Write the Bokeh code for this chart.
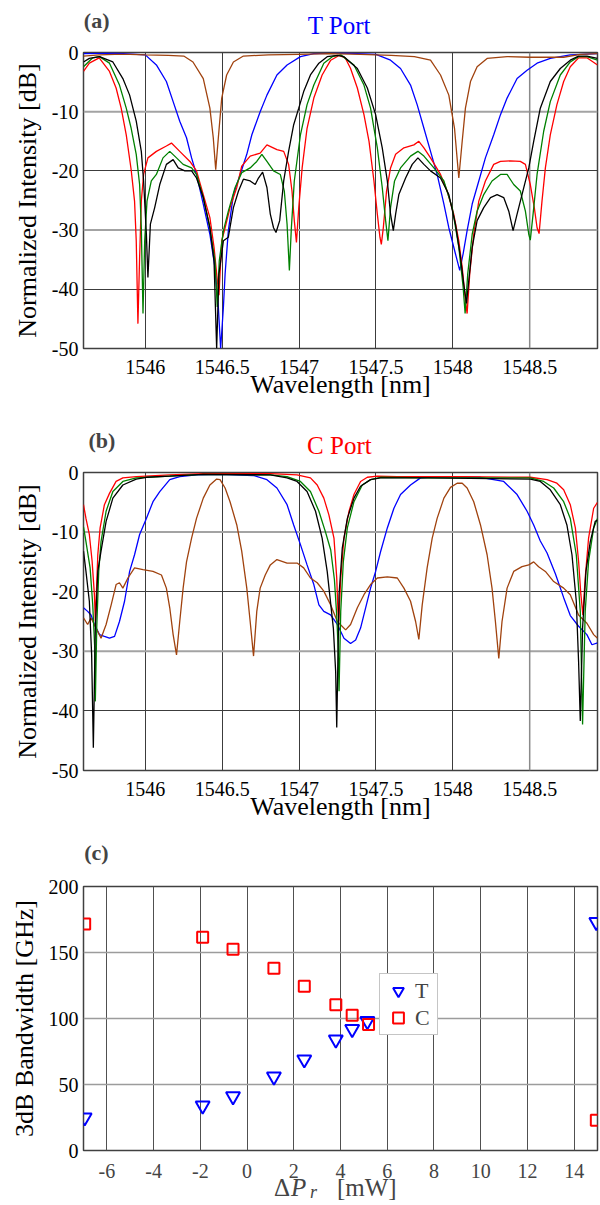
from bokeh.plotting import figure
from bokeh.models import Range1d, FixedTicker, Label, Span, Legend, LegendItem
from bokeh.layouts import column
from bokeh.embed import file_html
from bokeh.resources import INLINE

FONT = "Liberation Serif"

# ---------------- data ----------------
WL_TICKS = [1546, 1546.5, 1547, 1547.5, 1548, 1548.5]
WL_TICK_LABELS = ["1546", "1546.5", "1547", "1547.5", "1548", "1548.5"]
DB_TICKS = [0, -10, -20, -30, -40, -50]
DB_TICK_LABELS = ["0", "-10", "-20", "-30", "-40", "-50"]
WL_RANGE = (1545.598, 1548.941)
DB_RANGE = (-50, 0)

# (a) T port spectra: (wavelength nm, normalized intensity dB)
A_BLUE = [(1545.598,-0.2),(1545.8,-0.1),(1546.0,-0.4),(1546.072,-2.1),(1546.137,-4.9),(1546.181,-8.3),(1546.224,-11.6),(1546.268,-14.4),(1546.301,-17.8),(1546.333,-20.6),(1546.377,-25.6),(1546.42,-30.7),(1546.453,-36.3),(1546.475,-43.0),(1546.49,-50.0),(1546.508,-43.0),(1546.519,-37.4),(1546.54,-30.1),(1546.573,-24.0),(1546.617,-20.6),(1546.66,-17.2),(1546.693,-13.9),(1546.747,-10.0),(1546.791,-7.2),(1546.856,-3.8),(1546.922,-2.1),(1547.009,-0.7),(1547.096,-0.2),(1547.3,-0.1),(1547.5,-0.3),(1547.595,-1.3),(1547.66,-2.7),(1547.725,-5.5),(1547.768,-8.8),(1547.812,-12.8),(1547.855,-16.7),(1547.898,-20.6),(1547.942,-25.6),(1547.974,-29.6),(1548.017,-34.0),(1548.045,-36.8),(1548.067,-34.0),(1548.093,-30.1),(1548.126,-25.6),(1548.169,-21.7),(1548.212,-17.8),(1548.266,-13.9),(1548.31,-10.5),(1548.353,-7.7),(1548.418,-4.4),(1548.483,-3.0),(1548.548,-1.8),(1548.634,-1.0),(1548.764,-0.4),(1548.941,-0.2)]
A_RED = [(1545.598,-3.2),(1545.636,-1.8),(1545.70,-0.9),(1545.767,-3.2),(1545.81,-6.0),(1545.843,-9.4),(1545.876,-13.9),(1545.908,-19.8),(1545.93,-25.1),(1545.941,-31.8),(1545.952,-45.8),(1545.963,-34.6),(1545.974,-25.1),(1545.989,-20.6),(1546.017,-17.8),(1546.072,-16.7),(1546.137,-15.8),(1546.17,-15.3),(1546.224,-16.7),(1546.29,-18.4),(1546.333,-20.0),(1546.377,-24.0),(1546.42,-27.9),(1546.447,-32.9),(1546.464,-37.4),(1546.479,-41.0),(1546.497,-31.8),(1546.519,-29.6),(1546.551,-26.2),(1546.595,-22.8),(1546.627,-19.2),(1546.682,-17.5),(1546.747,-17.0),(1546.791,-15.6),(1546.856,-16.4),(1546.9,-16.7),(1546.932,-18.9),(1546.954,-23.4),(1546.969,-28.4),(1546.983,-32.1),(1546.998,-26.2),(1547.02,-19.5),(1547.052,-12.8),(1547.096,-7.7),(1547.15,-3.8),(1547.206,-1.3),(1547.26,-0.5),(1547.30,-0.9),(1547.335,-2.7),(1547.379,-6.0),(1547.422,-10.5),(1547.455,-15.0),(1547.487,-21.7),(1547.509,-27.3),(1547.526,-31.2),(1547.535,-32.4),(1547.548,-29.6),(1547.569,-23.4),(1547.595,-19.5),(1547.628,-17.2),(1547.682,-16.1),(1547.747,-15.6),(1547.779,-15.0),(1547.812,-16.1),(1547.855,-17.8),(1547.92,-20.6),(1547.963,-23.4),(1548.006,-27.3),(1548.039,-31.8),(1548.061,-36.3),(1548.082,-41.9),(1548.093,-44.1),(1548.11,-37.4),(1548.136,-30.7),(1548.169,-25.1),(1548.212,-21.7),(1548.266,-18.9),(1548.31,-18.4),(1548.374,-18.3),(1548.439,-18.4),(1548.472,-18.9),(1548.504,-22.3),(1548.53,-26.2),(1548.548,-29.6),(1548.561,-30.6),(1548.58,-25.1),(1548.602,-19.5),(1548.634,-13.9),(1548.677,-8.8),(1548.721,-4.9),(1548.764,-2.4),(1548.818,-0.9),(1548.872,-0.9),(1548.941,-2.1)]
A_GREEN = [(1545.598,-2.4),(1545.658,-0.9),(1545.702,-0.7),(1545.767,-1.8),(1545.832,-5.5),(1545.876,-9.4),(1545.908,-12.8),(1545.941,-17.2),(1545.963,-22.3),(1545.974,-29.6),(1545.985,-44.1),(1545.996,-31.8),(1546.011,-25.1),(1546.039,-21.7),(1546.072,-20.6),(1546.115,-17.8),(1546.159,-16.7),(1546.203,-17.8),(1546.246,-18.9),(1546.301,-19.5),(1546.333,-20.6),(1546.377,-24.5),(1546.42,-29.6),(1546.453,-35.2),(1546.468,-43.0),(1546.481,-35.2),(1546.508,-30.1),(1546.54,-26.8),(1546.584,-22.8),(1546.627,-20.3),(1546.682,-19.5),(1546.725,-18.4),(1546.758,-17.2),(1546.791,-18.4),(1546.834,-20.0),(1546.878,-20.6),(1546.904,-23.4),(1546.922,-29.0),(1546.937,-36.8),(1546.95,-29.6),(1546.969,-21.7),(1547.009,-13.9),(1547.052,-8.8),(1547.096,-5.5),(1547.161,-1.8),(1547.216,-0.7),(1547.271,-0.4),(1547.357,-2.1),(1547.422,-5.5),(1547.465,-9.4),(1547.509,-16.1),(1547.541,-22.8),(1547.563,-28.4),(1547.578,-31.8),(1547.595,-26.2),(1547.621,-21.7),(1547.66,-19.5),(1547.725,-17.5),(1547.773,-16.7),(1547.812,-17.5),(1547.877,-19.5),(1547.942,-21.7),(1547.996,-26.2),(1548.039,-32.9),(1548.067,-39.6),(1548.08,-44.1),(1548.097,-37.4),(1548.126,-30.7),(1548.158,-26.8),(1548.201,-24.0),(1548.255,-21.7),(1548.31,-20.6),(1548.353,-20.6),(1548.396,-22.3),(1548.439,-23.4),(1548.472,-26.8),(1548.494,-30.7),(1548.504,-31.7),(1548.522,-27.3),(1548.548,-20.6),(1548.591,-13.3),(1548.634,-8.3),(1548.699,-3.8),(1548.764,-1.6),(1548.818,-0.7),(1548.872,-0.7),(1548.941,-1.3)]
A_BLACK = [(1545.598,-1.6),(1545.636,-1.0),(1545.702,-0.7),(1545.789,-1.6),(1545.854,-4.4),(1545.898,-7.2),(1545.941,-11.6),(1545.974,-16.7),(1545.989,-21.7),(1546.007,-30.7),(1546.017,-38.0),(1546.033,-29.0),(1546.061,-26.2),(1546.094,-22.3),(1546.137,-18.9),(1546.181,-18.1),(1546.214,-19.5),(1546.257,-20.0),(1546.301,-20.0),(1546.333,-21.2),(1546.377,-24.5),(1546.42,-29.6),(1546.447,-35.2),(1546.464,-50.0),(1546.479,-37.4),(1546.508,-31.8),(1546.54,-31.2),(1546.573,-26.2),(1546.606,-23.4),(1546.638,-21.4),(1546.682,-21.7),(1546.715,-22.3),(1546.736,-21.2),(1546.763,-20.2),(1546.791,-22.8),(1546.813,-27.3),(1546.834,-29.6),(1546.85,-30.4),(1546.874,-28.4),(1546.9,-21.7),(1546.932,-16.7),(1546.965,-12.2),(1546.998,-9.4),(1547.03,-6.6),(1547.074,-3.8),(1547.129,-1.8),(1547.183,-0.7),(1547.25,-0.5),(1547.292,-0.7),(1547.379,-2.7),(1547.444,-6.0),(1547.498,-10.5),(1547.541,-16.1),(1547.574,-21.7),(1547.595,-27.3),(1547.613,-30.1),(1547.628,-27.3),(1547.649,-24.0),(1547.693,-21.2),(1547.736,-18.9),(1547.773,-17.8),(1547.812,-18.9),(1547.855,-20.0),(1547.92,-21.2),(1547.974,-24.0),(1548.017,-29.0),(1548.05,-34.6),(1548.071,-39.1),(1548.089,-42.4),(1548.104,-38.5),(1548.126,-32.9),(1548.158,-28.4),(1548.201,-26.2),(1548.245,-24.5),(1548.288,-24.0),(1548.331,-24.5),(1548.364,-26.8),(1548.392,-30.1),(1548.418,-27.3),(1548.45,-24.0),(1548.494,-19.5),(1548.526,-15.0),(1548.569,-9.4),(1548.634,-4.9),(1548.699,-2.7),(1548.764,-1.3),(1548.818,-0.6),(1548.872,-0.6),(1548.941,-1.0)]
A_BROWN = [(1545.598,-0.6),(1545.70,-0.4),(1545.80,-0.3),(1545.90,-0.3),(1546.00,-0.4),(1546.15,-0.5),(1546.25,-0.6),(1546.31,-1.6),(1546.377,-4.4),(1546.42,-9.4),(1546.442,-14.4),(1546.458,-19.8),(1546.475,-14.4),(1546.497,-7.7),(1546.529,-3.8),(1546.573,-1.6),(1546.638,-0.6),(1546.80,-0.4),(1547.00,-0.3),(1547.20,-0.2),(1547.40,-0.3),(1547.60,-0.5),(1547.75,-0.7),(1547.855,-1.3),(1547.92,-3.8),(1547.974,-7.2),(1548.011,-12.8),(1548.039,-21.2),(1548.061,-15.0),(1548.082,-9.4),(1548.115,-4.9),(1548.158,-2.4),(1548.223,-1.0),(1548.353,-0.7),(1548.50,-0.8),(1548.72,-0.8),(1548.83,-0.3),(1548.941,-0.2)]

# (b) C port spectra
B_BLUE = [(1545.598,-22.7),(1545.625,-23.3),(1545.647,-23.9),(1545.669,-25.5),(1545.702,-27.2),(1545.734,-27.5),(1545.767,-27.8),(1545.8,-27.5),(1545.832,-25.0),(1545.865,-21.6),(1545.898,-16.6),(1545.93,-13.8),(1545.963,-10.4),(1546.007,-7.7),(1546.05,-4.9),(1546.094,-3.2),(1546.159,-1.2),(1546.224,-0.7),(1546.333,-0.4),(1546.486,-0.3),(1546.704,-0.5),(1546.791,-1.2),(1546.856,-2.6),(1546.922,-5.4),(1546.965,-8.8),(1547.009,-12.1),(1547.052,-15.5),(1547.096,-18.8),(1547.129,-22.2),(1547.161,-23.3),(1547.205,-23.9),(1547.249,-25.5),(1547.292,-27.8),(1547.335,-28.7),(1547.368,-28.1),(1547.4,-26.1),(1547.433,-22.7),(1547.465,-19.4),(1547.498,-16.6),(1547.53,-13.3),(1547.574,-9.3),(1547.617,-6.0),(1547.66,-3.7),(1547.725,-2.1),(1547.79,-0.9),(1547.898,-0.7),(1548.18,-0.8),(1548.331,-1.5),(1548.418,-3.7),(1548.483,-6.5),(1548.526,-8.8),(1548.569,-11.5),(1548.613,-13.5),(1548.667,-17.0),(1548.721,-21.0),(1548.764,-24.0),(1548.818,-25.8),(1548.872,-27.2),(1548.905,-28.9),(1548.941,-28.6)]
B_RED = [(1545.598,-5.4),(1545.614,-7.7),(1545.636,-10.4),(1545.654,-14.9),(1545.669,-20.5),(1545.675,-25.0),(1545.691,-13.8),(1545.706,-9.3),(1545.734,-5.4),(1545.767,-3.5),(1545.81,-1.5),(1545.854,-0.9),(1545.941,-0.7),(1546.159,-0.4),(1546.377,-0.2),(1546.813,-0.2),(1546.987,-0.4),(1547.074,-0.9),(1547.118,-2.1),(1547.161,-4.3),(1547.194,-7.1),(1547.227,-11.0),(1547.245,-17.7),(1547.253,-23.3),(1547.258,-25.0),(1547.271,-17.7),(1547.292,-11.0),(1547.325,-6.5),(1547.357,-3.7),(1547.4,-1.5),(1547.444,-0.8),(1547.509,-0.6),(1547.639,-0.7),(1548.071,-0.7),(1548.504,-0.8),(1548.613,-1.2),(1548.677,-1.8),(1548.721,-2.9),(1548.764,-5.4),(1548.797,-9.3),(1548.818,-14.9),(1548.833,-20.5),(1548.846,-23.9),(1548.861,-17.7),(1548.883,-11.0),(1548.916,-6.0),(1548.941,-5.0)]
B_GREEN = [(1545.598,-9.1),(1545.614,-11.6),(1545.641,-16.0),(1545.658,-22.2),(1545.671,-29.4),(1545.675,-38.4),(1545.684,-26.1),(1545.697,-16.6),(1545.712,-11.6),(1545.745,-6.5),(1545.789,-3.2),(1545.854,-1.5),(1545.941,-0.9),(1546.159,-0.6),(1546.377,-0.3),(1546.813,-0.4),(1546.922,-0.7),(1547.009,-1.5),(1547.074,-3.2),(1547.129,-6.5),(1547.172,-10.0),(1547.206,-13.0),(1547.23,-18.0),(1547.245,-24.0),(1547.255,-30.0),(1547.26,-36.7),(1547.271,-23.3),(1547.288,-14.9),(1547.314,-9.3),(1547.357,-4.9),(1547.411,-2.1),(1547.465,-1.2),(1547.53,-0.8),(1547.855,-0.9),(1548.504,-0.9),(1548.591,-1.5),(1548.656,-2.6),(1548.721,-4.9),(1548.764,-7.7),(1548.803,-13.8),(1548.829,-23.3),(1548.844,-42.3),(1548.861,-23.3),(1548.883,-14.9),(1548.916,-9.3),(1548.941,-7.7)]
B_BLACK = [(1545.598,-13.2),(1545.614,-16.6),(1545.636,-21.6),(1545.651,-30.6),(1545.662,-46.2),(1545.675,-26.1),(1545.691,-16.6),(1545.712,-13.2),(1545.745,-8.2),(1545.789,-4.3),(1545.854,-2.1),(1545.941,-1.1),(1546.007,-0.8),(1546.159,-0.6),(1546.377,-0.3),(1546.813,-0.4),(1546.922,-0.9),(1546.987,-1.5),(1547.052,-3.2),(1547.107,-6.5),(1547.15,-11.0),(1547.183,-16.6),(1547.223,-26.1),(1547.238,-33.4),(1547.245,-42.8),(1547.26,-20.5),(1547.281,-12.7),(1547.314,-7.7),(1547.357,-4.3),(1547.4,-2.3),(1547.465,-1.2),(1547.53,-0.9),(1547.855,-0.9),(1548.504,-1.1),(1548.569,-1.5),(1548.634,-2.9),(1548.699,-5.4),(1548.742,-8.8),(1548.775,-13.8),(1548.803,-21.6),(1548.818,-31.7),(1548.829,-41.7),(1548.844,-26.1),(1548.866,-16.6),(1548.894,-11.6),(1548.926,-8.2),(1548.941,-8.0)]
B_BROWN = [(1545.598,-24.4),(1545.625,-25.5),(1545.647,-24.4),(1545.68,-26.1),(1545.712,-27.8),(1545.745,-25.5),(1545.778,-22.2),(1545.81,-18.8),(1545.832,-18.5),(1545.854,-19.4),(1545.887,-17.7),(1545.93,-16.0),(1545.985,-16.3),(1546.05,-16.6),(1546.105,-17.2),(1546.137,-19.4),(1546.159,-22.7),(1546.181,-27.2),(1546.203,-30.6),(1546.224,-25.0),(1546.246,-19.4),(1546.268,-15.0),(1546.301,-11.0),(1546.333,-7.7),(1546.377,-4.3),(1546.42,-2.1),(1546.464,-1.1),(1546.486,-1.2),(1546.519,-2.6),(1546.551,-4.9),(1546.595,-8.8),(1546.627,-13.2),(1546.66,-19.4),(1546.682,-25.0),(1546.704,-30.8),(1546.725,-23.3),(1546.747,-19.4),(1546.78,-17.2),(1546.813,-15.5),(1546.856,-14.6),(1546.922,-15.2),(1546.987,-15.2),(1547.03,-16.0),(1547.074,-17.7),(1547.118,-18.5),(1547.161,-19.9),(1547.205,-22.2),(1547.249,-25.0),(1547.303,-26.4),(1547.335,-25.5),(1547.379,-22.7),(1547.422,-20.5),(1547.465,-18.8),(1547.509,-17.7),(1547.574,-17.5),(1547.639,-17.7),(1547.682,-19.4),(1547.725,-21.6),(1547.758,-25.0),(1547.779,-28.0),(1547.801,-22.2),(1547.833,-16.0),(1547.866,-11.0),(1547.898,-7.7),(1547.942,-4.3),(1547.985,-2.5),(1548.028,-1.8),(1548.061,-1.8),(1548.093,-2.6),(1548.136,-4.9),(1548.18,-8.8),(1548.223,-13.8),(1548.255,-19.4),(1548.277,-25.0),(1548.299,-31.2),(1548.32,-25.0),(1548.353,-19.4),(1548.396,-16.6),(1548.45,-15.8),(1548.494,-15.5),(1548.526,-15.0),(1548.558,-15.8),(1548.602,-16.6),(1548.656,-18.3),(1548.721,-19.4),(1548.764,-20.5),(1548.818,-23.9),(1548.872,-25.3),(1548.916,-27.2),(1548.941,-27.8)]

# (c) 3dB bandwidth vs delta P_r
T_DP = [-6.95, -1.9, -0.6, 1.15, 2.45, 3.8, 4.5, 5.15, 14.95]
T_BW = [25, 34, 41, 56, 69, 84, 92, 98, 173]
C_DP = [-6.95, -1.9, -0.6, 1.15, 2.45, 3.8, 4.5, 5.2, 14.95]
C_BW = [171.5, 161.5, 152.5, 138, 124.5, 110.5, 102.5, 95.5, 23]
DP_TICKS = [-6, -4, -2, 0, 2, 4, 6, 8, 10, 12, 14]
DP_TICK_LABELS = ["-6", "-4", "-2", "0", "2", "4", "6", "8", "10", "12", "14"]
BW_TICKS = [0, 50, 100, 150, 200]
BW_TICK_LABELS = ["0", "50", "100", "150", "200"]
DP_RANGE = (-7, 15)
BW_RANGE = (0, 200)

BLUE, RED, GREEN, BLACK, BROWN = "#0000ff", "#ff0000", "#008000", "#000000", "#a0420e"

W = 600
BL, BR = 83, 3


def style_axes(p, xticks, xlabels, yticks, ylabels):
    axes = list(p.yaxis)
    p.yaxis.ticker = FixedTicker(ticks=yticks)
    p.yaxis.major_label_overrides = {t: l for t, l in zip(yticks, ylabels)}
    if xticks is not None:
        p.xaxis.ticker = FixedTicker(ticks=xticks)
        p.xaxis.major_label_overrides = {t: l for t, l in zip(xticks, xlabels)}
        axes += list(p.xaxis)
    for ax in axes:
        ax.axis_line_color = None
        ax.major_tick_line_color = None
        ax.minor_tick_line_color = None
        ax.major_tick_out = 0
        ax.major_tick_in = 0
        ax.major_label_text_font = FONT
        ax.major_label_text_font_size = "20px"
        ax.major_label_text_color = "black"
        ax.axis_label_text_font = FONT
        ax.axis_label_text_font_style = "normal"
        ax.axis_label_text_font_size = "26px"
        ax.axis_label_text_color = "black"
    if xticks is not None:
        p.xaxis.major_label_standoff = 11
        p.xaxis.axis_label_standoff = -7
    p.yaxis.major_label_standoff = 5
    p.yaxis.axis_label_standoff = 7
    p.outline_line_color = "#404040"
    p.outline_line_width = 1.5
    p.background_fill_color = "white"
    p.border_fill_color = "white"


def text_strip(height, x_range):
    """A blank strip (no axes, no frame, no title) whose y data = pixels from its top."""
    s = figure(width=W, height=height, x_range=Range1d(*x_range), y_range=Range1d(height, 0),
               x_axis_type=None, y_axis_type=None, title_location=None,
               output_backend="svg", toolbar_location=None,
               min_border_left=BL, min_border_right=BR, min_border_top=0, min_border_bottom=0)
    s.outline_line_color = None
    s.background_fill_color = "white"
    s.border_fill_color = "white"
    return s


def text_label(x, baseline_px, text, size, **kw):
    # Bokeh's alphabetic anchoring sits about a third of the font size low; compensate
    return Label(x=x, y=baseline_px - 0.34 * size, text=text, text_font=FONT,
                 text_font_size=f"{size}px", text_baseline="alphabetic", **kw)


def header(height, tag, tag_x, tag_y, title, title_color, title_y):
    s = text_strip(height, WL_RANGE)
    s.add_layout(text_label(tag_x, tag_y, tag, 22, text_font_style="bold", text_align="left"))
    s.add_layout(text_label(1547.262, title_y, title, 25, text_color=title_color, text_align="center"))
    return s


def spectrum_fig(curves, height, btop, bbot):
    p = figure(width=W, height=height, x_range=Range1d(*WL_RANGE), y_range=Range1d(*DB_RANGE),
               output_backend="svg", toolbar_location=None, title_location=None,
               min_border_left=BL, min_border_right=BR, min_border_top=btop, min_border_bottom=bbot)
    style_axes(p, WL_TICKS, WL_TICK_LABELS, DB_TICKS, DB_TICK_LABELS)
    p.xaxis.axis_label = "Wavelength [nm]"
    p.yaxis.axis_label = "Normalized Intensity [dB]"
    p.xgrid.ticker = FixedTicker(ticks=WL_TICKS[:-1])
    p.ygrid.ticker = FixedTicker(ticks=[-20, -40])
    for g in (p.xgrid, p.ygrid):
        g.grid_line_color = "#3c3c3c"
        g.grid_line_width = 1
    for v in (-10, -30):
        p.add_layout(Span(location=v, dimension="width", line_color="#a3a3a3",
                          line_width=2, level="underlay"))
    p.add_layout(Span(location=WL_TICKS[-1], dimension="height", line_color="#8a8a8a",
                      line_width=1.5, level="underlay"))
    for pts, col in curves:
        xs = [a for a, b in pts]
        ys = [b for a, b in pts]
        p.line(xs, ys, line_color=col, line_width=1.3)
    return p


ha = header(40, "(a)", 1545.60, 27, "T Port", BLUE, 33)
pa = spectrum_fig([(A_BLUE, BLUE), (A_RED, RED), (A_GREEN, GREEN), (A_BLACK, BLACK), (A_BROWN, BROWN)],
                  378, 12, 70)
hb = header(42, "(b)", 1545.63, 29, "C Port", RED, 35)
pb = spectrum_fig([(B_BLUE, BLUE), (B_BROWN, BROWN), (B_RED, RED), (B_GREEN, GREEN), (B_BLACK, BLACK)],
                  370, 12, 60)

# ---------------- panel (c) ----------------
hc = text_strip(40, DP_RANGE)
hc.add_layout(text_label(-6.97, 29, "(c)", 22, text_font_style="bold", text_align="left"))

pc = figure(width=W, height=291, x_range=Range1d(*DP_RANGE), y_range=Range1d(*BW_RANGE),
            x_axis_location=None, output_backend="svg", toolbar_location=None, title_location=None,
            min_border_left=BL, min_border_right=BR, min_border_top=16, min_border_bottom=11)
style_axes(pc, None, None, BW_TICKS, BW_TICK_LABELS)
pc.yaxis.axis_label = "3dB Bandwidth [GHz]"
pc.xgrid.ticker = FixedTicker(ticks=DP_TICKS)
pc.xgrid.grid_line_color = "#505050"
pc.xgrid.grid_line_width = 1
pc.ygrid.grid_line_color = "#9c9c9c"
pc.ygrid.grid_line_width = 1.6

rt = pc.scatter(T_DP, T_BW, marker="inverted_triangle", size=14, fill_color=None,
                line_color=BLUE, line_width=2)
rc = pc.scatter(C_DP, C_BW, marker="square", size=11, fill_color=None,
                line_color=RED, line_width=2)
leg = Legend(items=[LegendItem(label="T", renderers=[rt]), LegendItem(label="C", renderers=[rc])],
             location=(296, 115), margin=0, padding=3, spacing=0,
             glyph_width=30, glyph_height=27, label_standoff=2,
             label_text_font=FONT, label_text_font_size="22px", label_height=27, label_width=19,
             border_line_color="#8c8c8c", border_line_width=1.5, background_fill_color="white",
             background_fill_alpha=1.0)
pc.add_layout(leg, "center")

# x tick labels and x-axis label below panel (c): Delta P_r [mW]
fc = text_strip(44, DP_RANGE)
for t, lab in zip(DP_TICKS, DP_TICK_LABELS):
    fc.add_layout(text_label(t, 16, lab, 20, text_align="center"))
XL_X, XL_BASE = 1.15, 34
fc.add_layout(text_label(XL_X, XL_BASE, "Δ", 25, text_align="left"))
fc.add_layout(text_label(XL_X, XL_BASE, "P", 25, x_offset=17, text_font_style="italic", text_align="left"))
fc.add_layout(text_label(XL_X, XL_BASE + 3, "r", 18, x_offset=36, text_font_style="italic", text_align="left"))
fc.add_layout(text_label(XL_X, XL_BASE, "[mW]", 25, x_offset=63, text_align="left"))

layout = column(ha, pa, hb, pb, hc, pc, fc, spacing=0)
open("out.html", "w").write(file_html(layout, INLINE))
